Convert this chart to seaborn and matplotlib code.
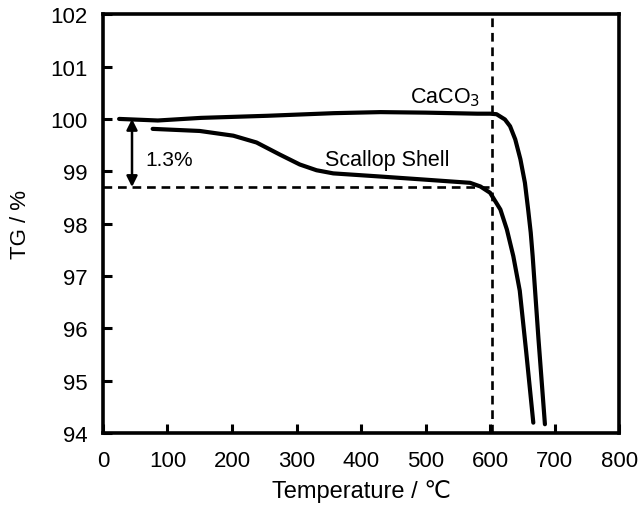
import matplotlib
matplotlib.use("Agg")
import matplotlib.pyplot as plt
import seaborn as sns
import pandas as pd

# values
temp_caco3 = [25, 85, 152, 255, 358, 430, 500, 580, 600, 610, 623, 631, 639, 647, 654, 659, 663, 666, 675, 685]
tg_caco3 = [100.00, 99.97, 100.02, 100.06, 100.11, 100.13, 100.12, 100.10, 100.10, 100.09, 99.99, 99.86,
            99.61, 99.23, 98.78, 98.27, 97.83, 97.38, 95.8, 94.17]

temp_shell = [77, 150, 202, 238, 274, 305, 331, 357, 430, 500, 569, 585, 600, 616, 626, 636, 646, 656, 667]
tg_shell = [99.81, 99.77, 99.68, 99.55, 99.32, 99.13, 99.02, 98.96, 98.90, 98.84, 98.78, 98.71, 98.59,
            98.27, 97.89, 97.38, 96.72, 95.55, 94.2]

onset_temp = 603
shell_level = 98.7
loss_label = "1.3%"

caco3 = pd.DataFrame({"Temperature": temp_caco3, "TG": tg_caco3})
shell = pd.DataFrame({"Temperature": temp_shell, "TG": tg_shell})

sns.set_style("ticks")
plt.rcParams['font.family'] = ['Liberation Sans', 'DejaVu Sans']
plt.rcParams['text.color'] = 'black'
plt.rcParams['axes.labelcolor'] = 'black'
plt.rcParams['xtick.color'] = 'black'
plt.rcParams['ytick.color'] = 'black'
plt.rcParams['axes.edgecolor'] = 'black'

fig = plt.figure(figsize=(6.38, 5.06), dpi=100)
ax = fig.add_axes([0.1614, 0.142, 0.809, 0.828])

sns.lineplot(data=caco3, x="Temperature", y="TG", sort=False, color="black", lw=3.0, ax=ax)
sns.lineplot(data=shell, x="Temperature", y="TG", sort=False, color="black", lw=3.0, ax=ax)

ax.axvline(onset_temp, color="black", lw=1.9, dashes=(3.3, 2.2))
ax.plot([0, onset_temp], [shell_level, shell_level], color="black", lw=1.9, dashes=(3.3, 2.2))

ax.annotate("", xy=(45, shell_level), xytext=(45, 100.0),
            arrowprops=dict(arrowstyle="<|-|>", color="black", lw=1.8, mutation_scale=16,
                            shrinkA=0, shrinkB=0))
ax.text(66, 99.23, loss_label, fontsize=15, va="center", ha="left")
ax.text(441, 99.23, "Scallop Shell", fontsize=15.5, va="center", ha="center")
ax.text(530, 100.43, "CaCO$_3$", fontsize=15.5, va="center", ha="center")

ax.set_xlim(0, 800)
ax.set_ylim(94, 102)
ax.set_xticks(range(0, 801, 100))
ax.set_yticks(range(94, 103))
ax.tick_params(direction="in", length=6.5, width=2.2, labelsize=16)
ax.tick_params(axis="x", pad=12)
ax.tick_params(axis="y", pad=11)
for s in ax.spines.values():
    s.set_linewidth(2.6)
    s.set_visible(True)

ax.set_xlabel("Temperature / ℃", fontsize=17, labelpad=6)
ax.set_ylabel("TG / %", fontsize=16, labelpad=14)

fig.savefig("out.png", dpi=100)
